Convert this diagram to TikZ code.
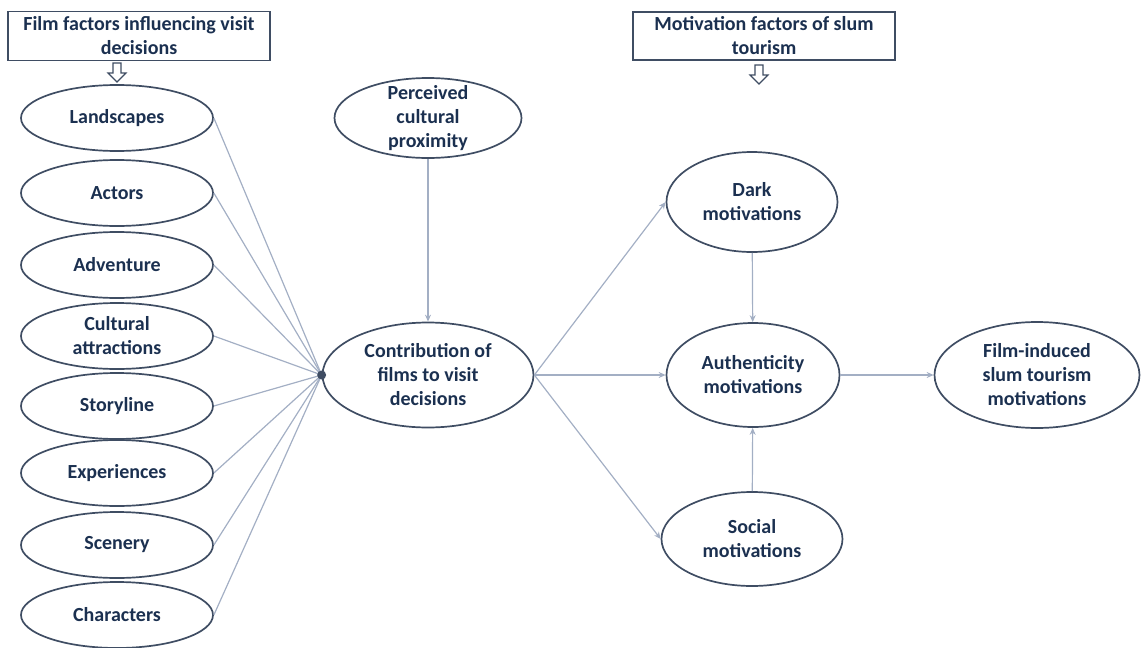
\documentclass[tikz,border=0pt]{standalone}
\usepackage{fontspec}
\setmainfont{Carlito}
\usetikzlibrary{shapes.geometric}
\usetikzlibrary{arrows.meta}
\definecolor{inkblue}{HTML}{1B3050}
\definecolor{rimgrey}{HTML}{3F4D63}
\definecolor{wirecol}{HTML}{A3AFC4}

\begin{document}
\begin{tikzpicture}[x=1pt, y=-1pt, font=\fontsize{20}{24}\selectfont\bfseries,
		oval/.style={ellipse, draw=rimgrey, line width=1.7pt, inner sep=0pt, align=center, text=inkblue},
		titlebox/.style={rectangle, draw=rimgrey, line width=1.5pt, align=center, text=inkblue, inner sep=0pt},
		wire/.style={wirecol, line width=1.2pt},
		arr/.style={wire, -{Stealth[length=7pt, width=6pt]}},
		downarrow/.pic={\draw[rimgrey, line width=1.2pt, fill=white] (-4,0) -- (4,0) -- (4,10) -- (9,10) -- (0,19) -- (-9,10) -- (-4,10) -- cycle;}]
		\useasboundingbox (0,0) rectangle (1141,648);
		% headings
		\node[titlebox, minimum width=262pt, minimum height=49pt] (filmbox) at (139,36) {Film factors influencing visit\\decisions};
		\node[titlebox, minimum width=262pt, minimum height=48pt] (motbox) at (764,36) {Motivation factors of slum\\tourism};
		\pic at (117,63) {downarrow};
		\pic at (759,65) {downarrow};
		% film factors
		\foreach \i/\yy/\txt in {1/118/Landscapes, 2/193/Actors, 3/265/Adventure, 4/336/{Cultural\\attractions}, 5/406/Storyline, 6/473/Experiences, 7/545/Scenery, 8/615/Characters} {
			\node[oval, minimum width=192pt, minimum height=66pt] (f\i) at (117,\yy) {\txt};
		}
		% centre
		\node[oval, minimum width=211pt, minimum height=105pt] (contrib) at (428,375) {Contribution of\\films to visit\\decisions};
		\node[oval, minimum width=187pt, minimum height=80pt, inner ysep=-14pt] (percv) at (428,118) {Perceived\\cultural\\proximity};
		\foreach \i in {1,...,8} \draw[wire] (f\i.east) -- (contrib.west);
		\node[circle, fill=rimgrey, inner sep=0pt, minimum size=9pt] (junc) at (contrib.west) {};
		\draw[arr] (percv) -- (contrib);
		% motivations
		\node[oval, minimum width=171pt, minimum height=100pt] (dark) at (752,202) {Dark\\motivations};
		\node[oval, minimum width=173pt, minimum height=104pt] (auth) at (753,375) {Authenticity\\motivations};
		\node[oval, minimum width=181pt, minimum height=94pt] (soc) at (752,539) {Social\\motivations};
		\node[oval, minimum width=205pt, minimum height=106pt] (filmind) at (1037,375) {Film-induced\\slum tourism\\motivations};
		\foreach \t in {dark, auth, soc} \draw[arr] (contrib.east) -- (\t.west);
		\draw[arr] (dark) -- (auth);
		\draw[arr] (soc) -- (auth);
		\draw[arr] (auth) -- (filmind);
	\end{tikzpicture}
\end{document}
